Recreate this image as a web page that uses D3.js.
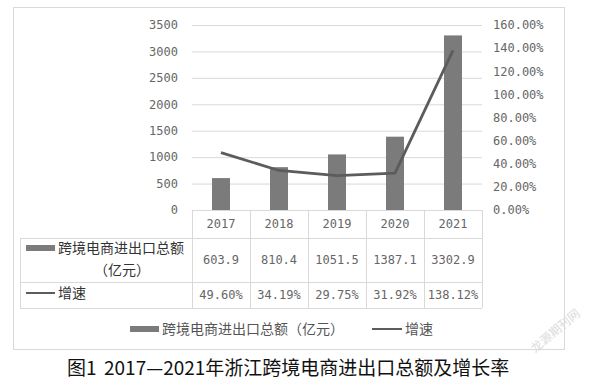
<!DOCTYPE html>
<html>
<head>
<meta charset="utf-8">
<title>2017—2021年浙江跨境电商进出口总额及增长率</title>
<script src="https://d3js.org/d3.v7.min.js"></script>
<style>
  body { margin: 0; background: #fff; }
  svg { display: block; }
  .num { font-family: "DejaVu Sans Mono", monospace; font-size: 12px; fill: #666; }
  .cjk { font-family: "Noto Sans CJK SC", sans-serif; }
</style>
</head>
<body>
<svg width="599" height="385"></svg>
<script>
// 数据
var years = ["2017", "2018", "2019", "2020", "2021"];
var amounts = [603.9, 810.4, 1051.5, 1387.1, 3302.9];   // 亿元
var growth = [49.60, 34.19, 29.75, 31.92, 138.12];      // %
var leftTicks = [0, 500, 1000, 1500, 2000, 2500, 3000, 3500];
var rightTicks = [0, 20, 40, 60, 80, 100, 120, 140, 160];
var barName = "跨境电商进出口总额";
var barUnit = "（亿元）";
var lineName = "增速";

var svg = d3.select("svg");
var barColor = "#7b7b7b", lineColor = "#5c5c5c", gridColor = "#d9d9d9";

// 外框
svg.append("rect")
  .attr("x", 13.5).attr("y", 7.5).attr("width", 551).attr("height", 342)
  .attr("fill", "none").attr("stroke", gridColor);

var x = d3.scaleBand().domain(years).range([192, 482]);
var yL = d3.scaleLinear().domain([0, 3500]).range([210, 25]);
var yR = d3.scaleLinear().domain([0, 160]).range([210, 25]);

// 网格线
svg.append("g")
  .attr("transform", "translate(192,0)")
  .call(d3.axisLeft(yL).tickValues(leftTicks.slice(1)).tickSize(-290).tickFormat(""))
  .call(function (g) {
    g.select(".domain").remove();
    g.selectAll("line").attr("stroke", gridColor);
  });

// 左轴
svg.append("g")
  .attr("transform", "translate(192,0)")
  .call(d3.axisLeft(yL).tickValues(leftTicks).tickSize(0).tickPadding(14).tickFormat(d3.format("d")))
  .call(function (g) {
    g.select(".domain").remove();
    g.selectAll("text").attr("class", "num").attr("font-family", null).attr("font-size", null);
  });

// 右轴
svg.append("g")
  .attr("transform", "translate(482,0)")
  .call(d3.axisRight(yR).tickValues(rightTicks).tickSize(0).tickPadding(11)
    .tickFormat(function (d) { return d.toFixed(2) + "%"; }))
  .call(function (g) {
    g.select(".domain").remove();
    g.selectAll("text").attr("class", "num").attr("font-family", null).attr("font-size", null);
  });

// 柱子
var barW = x.bandwidth() * 0.31;
svg.append("g").selectAll("rect")
  .data(amounts).enter().append("rect")
  .attr("x", function (d, i) { return x(years[i]) + (x.bandwidth() - barW) / 2; })
  .attr("y", function (d) { return yL(d); })
  .attr("width", barW)
  .attr("height", function (d) { return yL(0) - yL(d); })
  .attr("fill", barColor);

// 折线
var line = d3.line()
  .x(function (d, i) { return x(years[i]) + x.bandwidth() / 2; })
  .y(function (d) { return yR(d); });
svg.append("path")
  .datum(growth)
  .attr("d", line)
  .attr("fill", "none")
  .attr("stroke", lineColor)
  .attr("stroke-width", 2.8)
  .attr("stroke-linejoin", "round");

// 数据表
var rows = [210, 238, 282, 308];
var t = svg.append("g").attr("stroke", gridColor).attr("stroke-width", 1);
t.append("line").attr("x1", 192).attr("x2", 482).attr("y1", rows[0] + 0.5).attr("y2", rows[0] + 0.5);
rows.slice(1).forEach(function (r) {
  t.append("line").attr("x1", 20).attr("x2", 482).attr("y1", r + 0.5).attr("y2", r + 0.5);
});
t.append("line").attr("x1", 20.5).attr("x2", 20.5).attr("y1", rows[1]).attr("y2", rows[3]);
years.forEach(function (y) {
  t.append("line").attr("x1", x(y) + 0.5).attr("x2", x(y) + 0.5).attr("y1", rows[0]).attr("y2", rows[3]);
});
t.append("line").attr("x1", 482.5).attr("x2", 482.5).attr("y1", rows[0]).attr("y2", rows[3]);

var cx = function (i) { return x(years[i]) + x.bandwidth() / 2; };
svg.append("g").selectAll("text").data(years).enter().append("text")
  .attr("class", "num").attr("text-anchor", "middle")
  .attr("x", function (d, i) { return cx(i); }).attr("y", 228)
  .text(function (d) { return d; });
svg.append("g").selectAll("text").data(amounts).enter().append("text")
  .attr("class", "num").attr("text-anchor", "middle")
  .attr("x", function (d, i) { return cx(i); }).attr("y", 264)
  .text(function (d) { return d3.format(".1f")(d); });
svg.append("g").selectAll("text").data(growth).enter().append("text")
  .attr("class", "num").attr("text-anchor", "middle")
  .attr("x", function (d, i) { return cx(i); }).attr("y", 299)
  .text(function (d) { return d.toFixed(2) + "%"; });

// 表头图例
svg.append("rect").attr("x", 26).attr("y", 245).attr("width", 29).attr("height", 6).attr("fill", barColor);
svg.append("text").attr("class", "cjk").attr("x", 58).attr("y", 253)
  .attr("font-size", 14).attr("fill", "#333").text(barName);
svg.append("text").attr("class", "cjk").attr("x", 122).attr("y", 275).attr("text-anchor", "middle")
  .attr("font-size", 14).attr("fill", "#333").text(barUnit);
svg.append("line").attr("x1", 26).attr("x2", 55).attr("y1", 293).attr("y2", 293)
  .attr("stroke", lineColor).attr("stroke-width", 2);
svg.append("text").attr("class", "cjk").attr("x", 58).attr("y", 298)
  .attr("font-size", 14).attr("fill", "#333").text(lineName);

// 底部图例
svg.append("rect").attr("x", 130).attr("y", 326).attr("width", 29).attr("height", 6).attr("fill", barColor);
svg.append("text").attr("class", "cjk").attr("x", 162).attr("y", 334)
  .attr("font-size", 14).attr("fill", "#555").text(barName + barUnit);
svg.append("line").attr("x1", 372).attr("x2", 402).attr("y1", 329).attr("y2", 329)
  .attr("stroke", lineColor).attr("stroke-width", 2);
svg.append("text").attr("class", "cjk").attr("x", 405).attr("y", 334)
  .attr("font-size", 14).attr("fill", "#555").text(lineName);

// 标题
svg.append("text").attr("class", "cjk").attr("x", 67).attr("y", 375)
  .attr("font-size", 19).attr("fill", "#111").text("图1");
svg.append("text").attr("class", "cjk").attr("x", 104).attr("y", 375)
  .attr("font-size", 19).attr("fill", "#111").text("2017—2021年浙江跨境电商进出口总额及增长率");

// 水印
svg.append("text").attr("class", "cjk")
  .attr("transform", "translate(558,334) rotate(-40)")
  .attr("text-anchor", "middle").attr("font-size", 12).attr("fill", "#dcdcdc")
  .text("龙源期刊网");
</script>
</body>
</html>
